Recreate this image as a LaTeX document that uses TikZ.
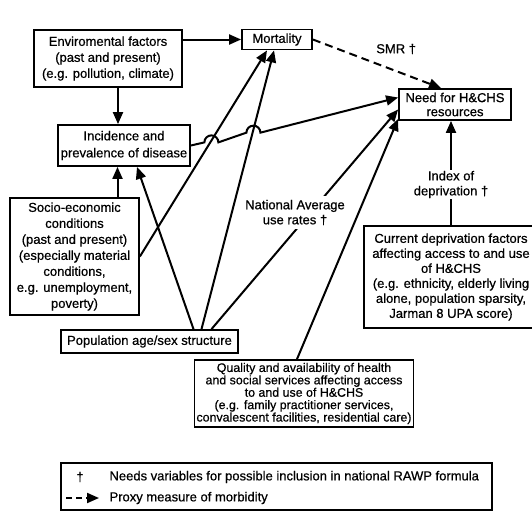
\documentclass[tikz,border=0pt]{standalone}
\usepackage{fontspec}
\setmainfont{Liberation Sans}[FakeBold=0.6]
\usetikzlibrary{positioning,arrows.meta,calc}

\begin{document}
\begin{tikzpicture}[
    x=1pt, y=-1pt,
    font=\fontsize{13}{16}\selectfont,
    box/.style={rectangle, draw, line width=1.8pt, align=center, inner sep=2pt},
    lbl/.style={fill=white, align=center, inner xsep=2pt, inner ysep=4pt, font=\fontsize{13}{15}\selectfont},
    arr/.style={-{Triangle[length=12pt,width=10pt]}, line width=2pt},
    dasharr/.style={arr, dash pattern=on 8pt off 5pt},
]
\useasboundingbox (0,0) rectangle (532,512);

\node[box, minimum width=148pt, minimum height=57pt] (env) at (108,58.5) {Enviromental factors\\(past and present)\\(e.g. pollution, climate)};
\node[box, minimum width=70pt, minimum height=20pt] (mort) at (277,39.5) {Mortality};
\node[box, minimum width=112pt, minimum height=31pt, font=\fontsize{13}{14}\selectfont] (need) at (455,104.5) {Need for H\&CHS\\resources};
\node[box, minimum width=132pt, minimum height=41pt, font=\fontsize{13}{17}\selectfont] (inc) at (124,145.5) {Incidence and\\prevalence of disease};
\node[box, minimum width=129pt, minimum height=117pt] (socio) at (74.5,256.5) {Socio-economic\\conditions\\(past and present)\\(especially material\\conditions,\\e.g. unemployment,\\poverty)};
\node[box, minimum width=177pt, minimum height=23pt] (pop) at (149.5,341.5) {Population age/sex structure};
\node[box, minimum width=174pt, minimum height=102pt, font=\fontsize{13}{15}\selectfont] (curr) at (451,277) {Current deprivation factors\\affecting access to and use\\of H\&CHS\\(e.g. ethnicity, elderly living\\alone, population sparsity,\\Jarman 8 UPA score)};
\node[box, minimum width=218pt, minimum height=67pt, font=\fontsize{12.4}{12.4}\selectfont] (qual) at (304,393.5) {Quality and availability of health\\and social services affecting access\\to and use of H\&CHS\\(e.g. family practitioner services,\\convalescent facilities, residential care)};

\coordinate (needA) at ([yshift=7pt]need.west);

\draw[arr] (env.east |- mort) -- (mort.west);
\draw[arr] ([xshift=10pt]env.south) -- ([xshift=10pt]env.south |- inc.north);
\draw[dasharr] (mort.east) -- node[lbl, fill=none, above=12pt, pos=0.65] (smr) {SMR †} ([xshift=-14pt]need.north);
\draw[arr] (inc.east) -- ($(inc.east)!0.065!(needA)$) arc[start angle=180, end angle=0, radius=7pt]
    -- ($(inc.east)!0.268!(needA)$) arc[start angle=180, end angle=0, radius=7pt] -- (needA);
\draw[arr] ([xshift=43pt]socio.north) -- ([xshift=43pt]socio.north |- inc.south);
\draw[arr] ([xshift=44pt]pop.north) -- ([xshift=13pt]inc.south);
\draw[arr] (socio.east) -- ([xshift=-10pt]mort.south);
\draw[arr] ([xshift=52pt]pop.north) -- ([xshift=-3pt]mort.south);
\draw[arr] ([xshift=62pt]pop.north) -- ([yshift=-5pt]need.west);
\draw[arr] ([xshift=-7pt]qual.north) -- ([yshift=2pt]need.south west);
\draw[arr] (curr.north) -- (curr.north |- need.south);

\node[lbl] (natavg) at (295,212.5) {National Average\\use rates †};
\node[lbl, inner ysep=1pt] (index) at (451,184.5) {Index of\\deprivation †};

\node[box, minimum width=431pt, minimum height=47pt] (legend) at (276.5,486.5) {};
\node (dag) at (80,477) {†};
\node[anchor=west] (needsvar) at (106,477) {Needs variables for possible inclusion in national RAWP formula};
\coordinate (lgs) at (66,498);
\coordinate (lge) at (99,498);
\draw[dasharr, dash pattern=on 6pt off 4pt] (lgs) -- (lge);
\node[anchor=west] (proxy) at (106,498) {Proxy measure of morbidity};
\end{tikzpicture}
\end{document}
